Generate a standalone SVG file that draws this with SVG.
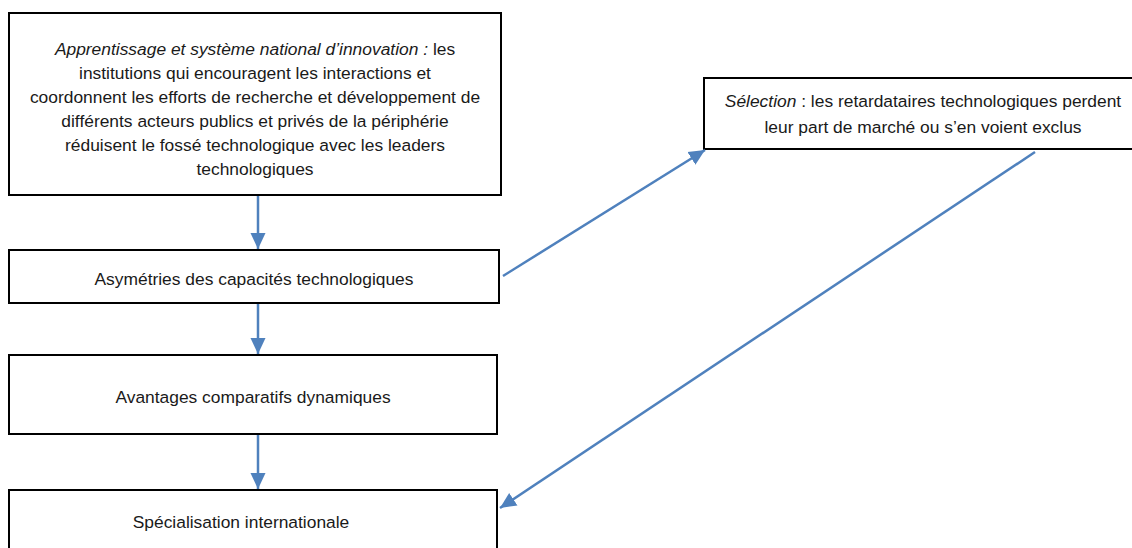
<svg xmlns="http://www.w3.org/2000/svg" width="1132" height="548" viewBox="0 0 1132 548">
<style>
.box{fill:#fff;stroke:#000;stroke-width:2}
.t{font-family:"Liberation Sans",Arial,sans-serif;font-size:17.4px;fill:#1a1a1a;text-anchor:middle}
.i{font-style:italic}
.c{stroke:#4F81BD;stroke-width:2.5;fill:none;marker-end:url(#ah)}
</style>
<defs>
<marker id="ah" markerUnits="userSpaceOnUse" markerWidth="17" markerHeight="17" viewBox="0 0 17 17" refX="16" refY="8.5" orient="auto">
<path d="M0,1 L16,8.5 L0,16 Z" fill="#4F81BD"/>
</marker>
</defs>
<rect width="1132" height="548" fill="#fff"/>
<g id="n1">
<rect class="box" x="9" y="13" width="492" height="182"/>
<text class="t" x="255" y="55"><tspan class="i">Apprentissage et système national d’innovation :</tspan> les</text>
<text class="t" x="255" y="79">institutions qui encouragent les interactions et</text>
<text class="t" x="255" y="103">coordonnent les efforts de recherche et développement de</text>
<text class="t" x="255" y="127">différents acteurs publics et privés de la périphérie</text>
<text class="t" x="255" y="151">réduisent le fossé technologique avec les leaders</text>
<text class="t" x="255" y="175">technologiques</text>
</g>
<g id="n2">
<rect class="box" x="9" y="250" width="490" height="53"/>
<text class="t" x="254" y="285">Asymétries des capacités technologiques</text>
</g>
<g id="n3">
<rect class="box" x="9" y="355" width="488" height="79"/>
<text class="t" x="253" y="403">Avantages comparatifs dynamiques</text>
</g>
<g id="n4">
<rect class="box" x="9" y="490" width="488" height="64"/>
<text class="t" x="241" y="528">Spécialisation internationale</text>
</g>
<g id="n5">
<rect class="box" x="704" y="78" width="432" height="71"/>
<text class="t" x="923" y="107"><tspan class="i">Sélection</tspan> : les retardataires technologiques perdent</text>
<text class="t" x="923" y="133">leur part de marché ou s’en voient exclus</text>
</g>
<g id="connectors">
<line class="c" x1="258" y1="196" x2="258" y2="249"/>
<line class="c" x1="258" y1="304" x2="258" y2="354"/>
<line class="c" x1="258" y1="435" x2="258" y2="489"/>
<line class="c" x1="503" y1="276" x2="705" y2="150"/>
<line class="c" x1="1035" y1="152" x2="500" y2="508"/>
</g>
</svg>
